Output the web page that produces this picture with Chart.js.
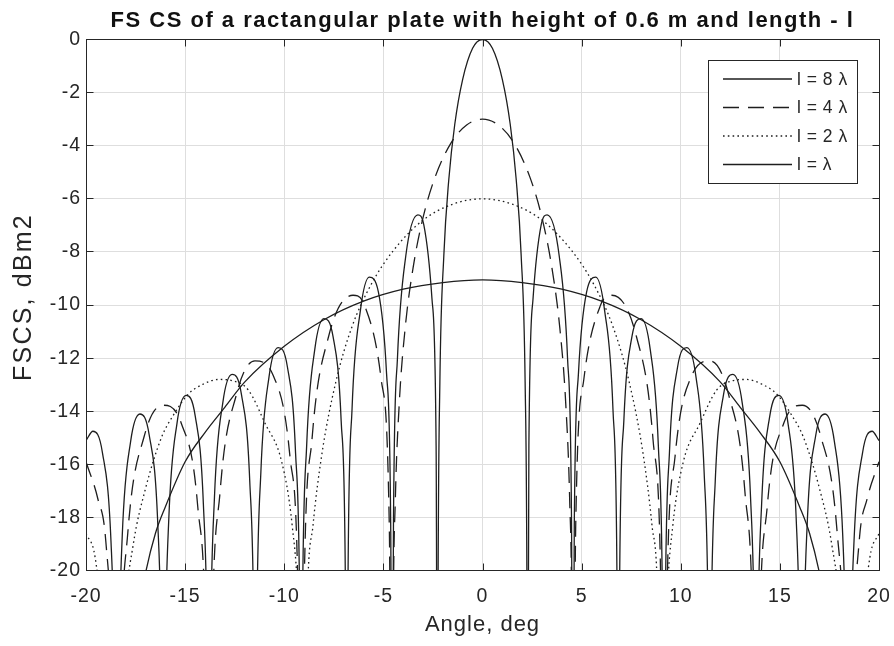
<!DOCTYPE html>
<html>
<head>
<meta charset="utf-8">
<script src="https://cdn.jsdelivr.net/npm/chart.js@4.4.1/dist/chart.umd.min.js"></script>
<style>
  html, body { margin: 0; padding: 0; background: #fff; }
  #wrap { width: 894px; height: 646px; }
</style>
</head>
<body>
<div id="wrap"><canvas id="fscs" width="894" height="646"></canvas></div>
<script>
// ── DATA ──
const chartTitle = 'FS CS of a ractangular plate with height of 0.6 m and length - l';
const xAxisTitle = 'Angle, deg';
const yAxisTitle = 'FSCS, dBm2';
const xTicks = [-20, -15, -10, -5, 0, 5, 10, 15, 20];
const yTicks = [0, -2, -4, -6, -8, -10, -12, -14, -16, -18, -20];
const seriesLabels = ['l = 8 \u03bb', 'l = 4 \u03bb', 'l = 2 \u03bb', 'l = \u03bb'];

// l = 8λ
const l8Angle = [
  -20, -19.65, -19.17, -18.74, -18.52, -18.45,
  -18.38, -18.17, -17.75, -17.28, -16.81, -16.38, -16.17, -16.1,
  -16.03, -15.82, -15.41, -14.95, -14.49, -14.08, -13.87, -13.8,
  -13.73, -13.52, -13.1, -12.63, -12.16, -11.74, -11.53, -11.46,
  -11.39, -11.18, -10.77, -10.31, -9.84, -9.43, -9.22, -9.15,
  -9.08, -8.87, -8.46, -8.0, -7.54, -7.13, -6.92, -6.85,
  -6.78, -6.58, -6.16, -5.71, -5.25, -4.84, -4.63, -4.56,
  -4.49, -4.29, -3.87, -3.26, -2.96, -2.55, -2.34, -2.27,
  -2.24, -2.15, -1.95, -1.7, -1.4, -1.0, -0.5, 0, 0.5, 1.0, 1.4, 1.7, 1.95, 2.15, 2.24,
  2.27, 2.34, 2.55, 2.96, 3.26, 3.87, 4.29, 4.49,
  4.56, 4.63, 4.84, 5.25, 5.71, 6.16, 6.58, 6.78,
  6.85, 6.92, 7.13, 7.54, 8.0, 8.46, 8.87, 9.08,
  9.15, 9.22, 9.43, 9.84, 10.31, 10.77, 11.18, 11.39,
  11.46, 11.53, 11.74, 12.16, 12.63, 13.1, 13.52, 13.73,
  13.8, 13.87, 14.08, 14.49, 14.95, 15.41, 15.82, 16.03,
  16.1, 16.17, 16.38, 16.81, 17.28, 17.75, 18.17, 18.38,
  18.45, 18.52, 18.74, 19.17, 19.65, 20
];
const l8Fscs = [
  -15.1, -14.75, -15.56, -18.89, -24.76, -30,
  -24.63, -18.66, -15.14, -14.1, -14.9, -18.22, -24.08, -30,
  -23.96, -17.99, -14.45, -13.4, -14.18, -17.48, -23.33, -30,
  -23.22, -17.23, -13.68, -12.61, -13.36, -16.63, -22.48, -30,
  -22.3, -16.3, -12.71, -11.6, -12.33, -15.56, -21.38, -30,
  -21.32, -15.3, -11.67, -10.51, -11.18, -14.35, -20.15, -30,
  -19.96, -13.91, -10.21, -8.95, -9.51, -12.57, -18.3, -30,
  -18.1, -12.0, -8.15, -6.6, -6.98, -9.75, -15.3, -30,
  -20.5, -12.9, -8.12, -5.27, -3.2, -1.5, -0.33, 0, -0.33, -1.5, -3.2, -5.27, -8.12, -12.9, -20.5,
  -30, -15.3, -9.75, -6.98, -6.6, -8.15, -12.0, -18.1,
  -30, -18.3, -12.57, -9.51, -8.95, -10.21, -13.91, -19.96,
  -30, -20.15, -14.35, -11.18, -10.51, -11.67, -15.3, -21.32,
  -30, -21.38, -15.56, -12.33, -11.6, -12.71, -16.3, -22.3,
  -30, -22.48, -16.63, -13.36, -12.61, -13.68, -17.23, -23.22,
  -30, -23.33, -17.48, -14.18, -13.4, -14.45, -17.99, -23.96,
  -30, -24.08, -18.22, -14.9, -14.1, -15.14, -18.66, -24.63,
  -30, -24.76, -18.89, -15.56, -14.75, -15.1
];

// l = 4λ
const l4Angle = [
  -20, -19.4, -19.0, -18.59, -18.45,
  -18.31, -17.89, -17.06, -16.13, -15.2, -14.36, -13.94, -13.8,
  -13.66, -13.24, -12.41, -11.48, -10.55, -9.71, -9.29, -9.15,
  -9.01, -8.6, -7.77, -6.53, -5.94, -5.11, -4.7, -4.56,
  -4.5, -4.4, -4.2, -3.9, -3.5, -3.0, -2.4, -1.6, -0.8, 0, 0.8, 1.6, 2.4, 3.0, 3.5, 3.9, 4.2, 4.4, 4.5,
  4.56, 4.7, 5.11, 5.94, 6.53, 7.77, 8.6, 9.01,
  9.15, 9.29, 9.71, 10.55, 11.48, 12.41, 13.24, 13.66,
  13.8, 13.94, 14.36, 15.2, 16.13, 17.06, 17.89, 18.31,
  18.45, 18.59, 19.0, 19.4, 20
];
const l4Fscs = [
  -15.9, -17.3, -18.9, -25, -32,
  -24.58, -18.56, -14.93, -13.77, -14.44, -17.61, -23.41, -32,
  -23.11, -17.06, -13.36, -12.1, -12.66, -15.72, -21.46, -32,
  -21.18, -15.05, -11.2, -9.63, -10.03, -12.8, -18.36, -32,
  -21.69, -17.41, -13.72, -10.86, -8.59, -6.71, -5.2, -3.91, -3.22, -3, -3.22, -3.91, -5.2, -6.71, -8.59, -10.86, -13.72, -17.41, -21.69,
  -32, -18.36, -12.8, -10.03, -9.63, -11.2, -15.05, -21.18,
  -32, -21.46, -15.72, -12.66, -12.1, -13.36, -17.06, -23.11,
  -32, -23.41, -17.61, -14.44, -13.77, -14.93, -18.56, -24.58,
  -32, -25, -18.9, -17.3, -15.9
];

// l = 2λ
const l2Angle = [
  -20, -19.54, -19.0, -18.6,
  -18.1, -17.61, -17.02, -16.18, -15.6, -14.84, -14.1, -13.32, -12.6, -11.81, -10.97, -10.13, -9.6, -9.3, -9.0,
  -8.85, -8.55, -8.1, -7.4, -6.6, -5.6, -4.5, -3.0, -1.5, 0, 1.5, 3.0, 4.5, 5.6, 6.6, 7.4, 8.1, 8.55, 8.85,
  9.0, 9.3, 9.6, 10.13, 10.97, 11.81, 12.6, 13.32, 14.1, 14.84, 15.6, 16.18, 17.02, 17.61, 18.1,
  18.6, 19.0, 19.54, 20
];
const l2Fscs = [
  -18.6, -19.5, -23.6, -30,
  -22.0, -18.98, -16.97, -14.96, -14.15, -13.35, -12.98, -12.8, -12.85, -13.2, -14.45, -15.9, -18.3, -21.3, -30,
  -21.5, -18.3, -15.6, -12.9, -10.85, -9.2, -7.95, -6.8, -6.2, -6, -6.2, -6.8, -7.95, -9.2, -10.85, -12.9, -15.6, -18.3, -21.5,
  -30, -21.3, -18.3, -15.9, -14.45, -13.2, -12.85, -12.8, -12.98, -13.35, -14.15, -14.96, -16.97, -18.98, -22.0,
  -30, -23.6, -19.5, -18.6
];

// l = λ
const l1Angle = [-18, -17.5, -17, -16.5, -16, -15, -14, -13, -12, -10, -8, -6, -4, -2, 0,
  2, 4, 6, 8, 10, 12, 13, 14, 15, 16, 16.5, 17, 17.5, 18];
const l1Fscs = [-25, -22.2, -20.1, -18.6, -17.6, -15.9, -14.8, -13.85, -12.9, -11.55, -10.55, -9.85, -9.4, -9.15, -9.05,
  -9.15, -9.4, -9.85, -10.55, -11.55, -12.9, -13.85, -14.8, -15.9, -17.6, -18.6, -20.1, -22.2, -25];

// ── STYLE ──
const INK = '#262626';
const LINE = '#1e1e1e';
const FONT = '"Liberation Sans", Arial, Helvetica, sans-serif';
const DASHES = [[], [16, 9], [1.6, 3.2], []];

Chart.defaults.font.family = FONT;
Chart.defaults.color = INK;

function pts(xs, ys) { return xs.map((x, i) => ({ x, y: ys[i] })); }

const datasets = [
  pts(l8Angle, l8Fscs), pts(l4Angle, l4Fscs), pts(l2Angle, l2Fscs), pts(l1Angle, l1Fscs)
].map((data, i) => ({
  label: seriesLabels[i], data,
  borderColor: LINE, borderWidth: 1.3, borderDash: DASHES[i],
  pointRadius: 0, fill: false, cubicInterpolationMode: 'monotone'
}));

// box, inward ticks, titles and legend, MATLAB style
const matlabFrame = {
  id: 'matlabFrame',
  beforeDraw(chart) { chart.ctx.letterSpacing = '1px'; },
  afterDraw(chart) {
    const { ctx, chartArea: a, scales: { x, y } } = chart;
    const L = Math.floor(a.left) + 0.5, R = Math.floor(a.right) + 0.5;
    const T = Math.floor(a.top) + 0.5, B = Math.floor(a.bottom) + 0.5;
    ctx.save();
    ctx.strokeStyle = INK; ctx.lineWidth = 1; ctx.setLineDash([]);
    ctx.strokeRect(L, T, R - L, B - T);
    ctx.beginPath();
    xTicks.forEach(v => {
      const px = Math.round(x.getPixelForValue(v)) + 0.5;
      ctx.moveTo(px, B); ctx.lineTo(px, B - 7);
      ctx.moveTo(px, T); ctx.lineTo(px, T + 7);
    });
    yTicks.forEach(v => {
      const py = Math.round(y.getPixelForValue(v) - 0.5) + 0.5;
      ctx.moveTo(L, py); ctx.lineTo(L + 7, py);
      ctx.moveTo(R, py); ctx.lineTo(R - 7, py);
    });
    ctx.stroke();

    // title
    ctx.fillStyle = '#111';
    ctx.letterSpacing = '1.5px';
    ctx.font = 'bold 22px ' + FONT;
    ctx.textAlign = 'center'; ctx.textBaseline = 'alphabetic';
    ctx.fillText(chartTitle, (a.left + a.right) / 2, 27);

    // y axis title
    ctx.save();
    ctx.translate(24.5, 297);
    ctx.rotate(-Math.PI / 2);
    ctx.fillStyle = INK;
    ctx.letterSpacing = '2.2px';
    ctx.font = '25px ' + FONT;
    ctx.textBaseline = 'middle';
    ctx.fillText(yAxisTitle, 0, 0);
    ctx.restore();

    // legend box
    const bx = 708.5, by = 60.5, bw = 149, bh = 123;
    ctx.fillStyle = '#fff';
    ctx.fillRect(bx, by, bw, bh);
    ctx.strokeStyle = INK; ctx.lineWidth = 1;
    ctx.strokeRect(bx, by, bw, bh);
    ctx.letterSpacing = '0.5px';
    ctx.font = '17.5px ' + FONT;
    ctx.textAlign = 'left'; ctx.textBaseline = 'middle';
    chart.data.datasets.forEach((ds, i) => {
      const ry = 79 + i * 28.5;
      ctx.strokeStyle = LINE; ctx.lineWidth = 1.3;
      ctx.setLineDash(ds.borderDash);
      ctx.beginPath(); ctx.moveTo(723, ry); ctx.lineTo(792, ry); ctx.stroke();
      ctx.setLineDash([]);
      ctx.fillStyle = INK;
      ctx.fillText(ds.label, 797, ry + 1);
    });
    ctx.restore();
  }
};

new Chart(document.getElementById('fscs'), {
  type: 'line',
  data: { datasets },
  options: {
    responsive: false, animation: false,
    layout: { padding: { top: 39.5, right: 15, left: 0, bottom: 0 } },
    elements: { line: { capBezierPoints: false } },
    scales: {
      x: {
        type: 'linear', min: -20, max: 20,
        afterBuildTicks: s => { s.ticks = xTicks.map(v => ({ value: v })); },
        afterFit: s => { s.height = 75.3; s.paddingLeft = 0; s.paddingRight = 0; },
        ticks: { font: { size: 19.5 }, padding: 14, color: INK, callback: v => String(v) },
        grid: { color: '#dedede', drawTicks: false },
        border: { display: false },
        title: { display: true, text: xAxisTitle, font: { size: 22 }, color: INK, padding: { top: 0, bottom: 7.4 } }
      },
      y: {
        type: 'linear', min: -20, max: 0,
        afterBuildTicks: s => { s.ticks = yTicks.map(v => ({ value: v })); },
        afterFit: s => { s.width = 86; s.paddingTop = 0; s.paddingBottom = 0; },
        ticks: { font: { size: 19.5 }, padding: 5, color: INK, callback: v => String(v) },
        grid: { color: '#dedede', drawTicks: false },
        border: { display: false },
        title: { display: false }
      }
    },
    plugins: { legend: { display: false }, tooltip: { enabled: false }, title: { display: false } }
  },
  plugins: [matlabFrame]
});
</script>
</body>
</html>
